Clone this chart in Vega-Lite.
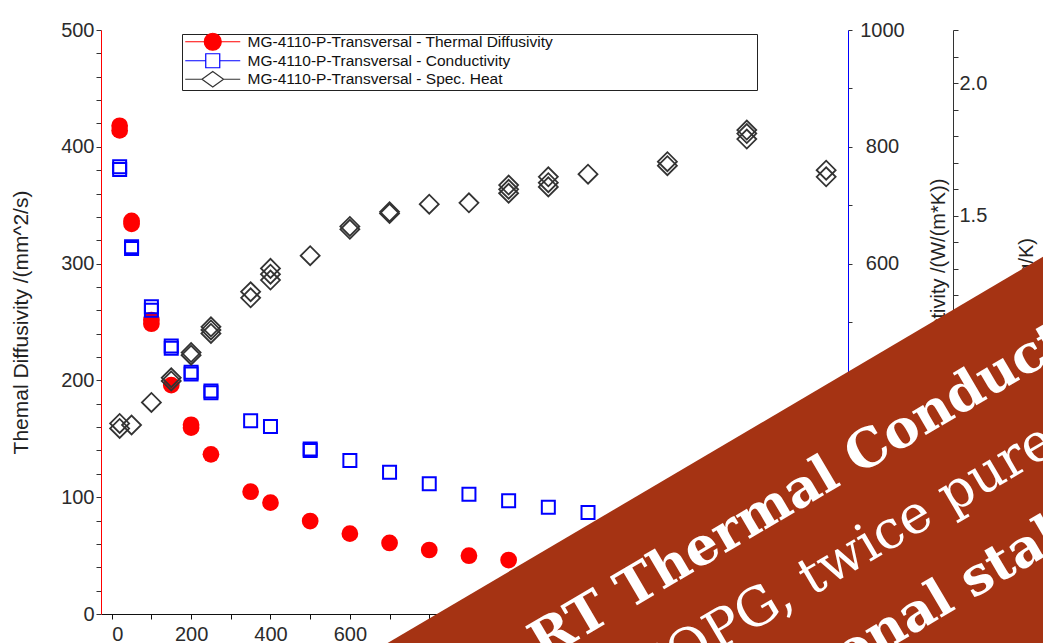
{
  "$schema": "https://vega.github.io/schema/vega-lite/v6.json",
  "width": 747,
  "height": 584,
  "autosize": {"type": "none"},
  "padding": {"left": 101, "top": 30, "right": 195, "bottom": 29},
  "background": "white",
  "config": {"view": {"stroke": null}, "font": "Liberation Sans"},
  "datasets": {
    "diff": [
      {"temp": 20, "value": 418}, {"temp": 20, "value": 414},
      {"temp": 50, "value": 336.5}, {"temp": 50, "value": 334},
      {"temp": 100, "value": 251.7}, {"temp": 100, "value": 248.5},
      {"temp": 150, "value": 196},
      {"temp": 200, "value": 162}, {"temp": 200, "value": 159.5},
      {"temp": 250, "value": 136.7},
      {"temp": 350, "value": 104.7},
      {"temp": 400, "value": 95.3},
      {"temp": 500, "value": 79.6},
      {"temp": 600, "value": 68.8},
      {"temp": 700, "value": 60.8},
      {"temp": 800, "value": 54.8},
      {"temp": 900, "value": 49.9},
      {"temp": 1000, "value": 46.2}
    ],
    "cond": [
      {"temp": 20, "value": 766}, {"temp": 20, "value": 761},
      {"temp": 50, "value": 629}, {"temp": 50, "value": 626},
      {"temp": 100, "value": 526}, {"temp": 100, "value": 520},
      {"temp": 150, "value": 459}, {"temp": 150, "value": 455},
      {"temp": 200, "value": 414}, {"temp": 200, "value": 411},
      {"temp": 250, "value": 382}, {"temp": 250, "value": 379},
      {"temp": 350, "value": 331},
      {"temp": 400, "value": 321},
      {"temp": 500, "value": 282.5}, {"temp": 500, "value": 280},
      {"temp": 600, "value": 263},
      {"temp": 700, "value": 242.6},
      {"temp": 800, "value": 223},
      {"temp": 900, "value": 205},
      {"temp": 1000, "value": 194},
      {"temp": 1100, "value": 182.7},
      {"temp": 1200, "value": 174}
    ],
    "cp": [
      {"temp": 20, "value": 0.699}, {"temp": 20, "value": 0.718},
      {"temp": 50, "value": 0.712},
      {"temp": 100, "value": 0.797},
      {"temp": 150, "value": 0.878}, {"temp": 150, "value": 0.89},
      {"temp": 200, "value": 0.975}, {"temp": 200, "value": 0.985},
      {"temp": 250, "value": 1.057}, {"temp": 250, "value": 1.07}, {"temp": 250, "value": 1.082},
      {"temp": 350, "value": 1.191}, {"temp": 350, "value": 1.214},
      {"temp": 400, "value": 1.258}, {"temp": 400, "value": 1.28}, {"temp": 400, "value": 1.302},
      {"temp": 500, "value": 1.35},
      {"temp": 600, "value": 1.449}, {"temp": 600, "value": 1.46},
      {"temp": 700, "value": 1.509}, {"temp": 700, "value": 1.515},
      {"temp": 800, "value": 1.544},
      {"temp": 900, "value": 1.549},
      {"temp": 1000, "value": 1.585}, {"temp": 1000, "value": 1.6}, {"temp": 1000, "value": 1.616},
      {"temp": 1100, "value": 1.609}, {"temp": 1100, "value": 1.625}, {"temp": 1100, "value": 1.647},
      {"temp": 1200, "value": 1.657},
      {"temp": 1400, "value": 1.689}, {"temp": 1400, "value": 1.704},
      {"temp": 1600, "value": 1.789}, {"temp": 1600, "value": 1.81}, {"temp": 1600, "value": 1.823},
      {"temp": 1800, "value": 1.647}, {"temp": 1800, "value": 1.672}
    ],
    "series": [
      {"s": "MG-4110-P-Transversal - Thermal Diffusivity"},
      {"s": "MG-4110-P-Transversal - Conductivity"},
      {"s": "MG-4110-P-Transversal - Spec. Heat"}
    ],
    "band": [{"x": 607.8, "y": -390.1, "x2": 3646, "y2": 218.2}],
    "boldText": [
      {"x": 1085.5, "y": -40.1, "t": "RT Thermal Conductivity"},
      {"x": 1381, "y": -144.9, "t": "Exceptional stability"}
    ],
    "regText": [
      {"x": 1330, "y": -71.6, "t": "HOPG, twice purer"}
    ]
  },
  "resolve": {"scale": {"y": "independent"}},
  "layer": [
    {
      "data": {"name": "diff"},
      "mark": {"type": "point", "shape": "circle", "filled": true, "size": 280, "opacity": 1, "strokeWidth": 0, "color": "#ff0000"},
      "encoding": {
        "x": {
          "field": "temp", "type": "quantitative", "title": null,
          "scale": {"domain": [-27, 1855], "nice": false, "zero": false},
          "axis": {
            "title": null,
            "values": [0, 100, 200, 300, 400, 500, 600, 700, 800, 900, 1000, 1100, 1200, 1300, 1400, 1500, 1600, 1700, 1800],
            "format": "d",
            "labelExpr": "datum.value % 200 === 0 ? datum.label : ''",
            "grid": false, "zindex": 0,
            "domainColor": "#111111", "domainWidth": 1,
            "tickColor": "#111111", "tickSize": 5, "tickWidth": 1,
            "labelFont": "Liberation Sans", "labelFontSize": 20, "labelColor": "#2b2b2b",
            "labelPadding": 5, "labelFlush": false, "labelOverlap": false, "labelDx": 6,
            "labelAlign": {"condition": {"test": "datum.value === 0", "value": "left"}, "value": "center"}
          }
        },
        "y": {
          "field": "value", "type": "quantitative",
          "scale": {"domain": [0, 500], "nice": false, "zero": false},
          "axis": {
            "orient": "left",
            "title": "Themal Diffusivity /(mm^2/s)",
            "values": [0, 20, 40, 60, 80, 100, 120, 140, 160, 180, 200, 220, 240, 260, 280, 300, 320, 340, 360, 380, 400, 420, 440, 460, 480, 500],
            "format": "d",
            "labelExpr": "datum.value % 100 === 0 ? datum.label : ''",
            "grid": false, "zindex": 0,
            "domainColor": "#ff0000", "domainWidth": 1,
            "tickColor": "#333333", "tickSize": 5, "tickWidth": 1,
            "labelFont": "Liberation Sans", "labelFontSize": 20, "labelColor": "#2b2b2b",
            "labelPadding": 2, "labelOverlap": false,
            "titleFont": "Liberation Sans", "titleFontSize": 21, "titleFontWeight": "normal", "titleColor": "#222222",
            "titleAngle": 270, "titleBaseline": "alphabetic", "titleAlign": "center",
            "titleX": -74, "titleY": 292
          }
        }
      }
    },
    {
      "data": {"name": "cond"},
      "mark": {"type": "point", "shape": "square", "filled": false, "size": 169, "opacity": 1, "strokeWidth": 2, "color": "#0000ff"},
      "encoding": {
        "x": {"field": "temp", "type": "quantitative", "title": null, "scale": {"domain": [-27, 1855], "nice": false, "zero": false}},
        "y": {
          "field": "value", "type": "quantitative",
          "scale": {"domain": [0, 1000], "nice": false, "zero": false},
          "axis": {
            "orient": "right",
            "title": "Thermal Conductivity /(W/(m*K))",
            "values": [0, 100, 200, 300, 400, 500, 600, 700, 800, 900, 1000],
            "format": "d",
            "labelExpr": "datum.value % 200 === 0 ? datum.label : ''",
            "grid": false, "zindex": 0,
            "domainColor": "#0000ff", "domainWidth": 1,
            "tickColor": "#333333", "tickSize": 4, "tickWidth": 1,
            "labelFont": "Liberation Sans", "labelFontSize": 20, "labelColor": "#2b2b2b",
            "labelAlign": "center", "labelPadding": 30, "labelOverlap": false,
            "titleFont": "Liberation Sans", "titleFontSize": 20, "titleFontWeight": "normal", "titleColor": "#222222",
            "titleAngle": 270, "titleBaseline": "alphabetic", "titleAlign": "center",
            "titleX": 96, "titleY": 292
          }
        }
      }
    },
    {
      "data": {"name": "cp"},
      "mark": {"type": "point", "shape": "diamond", "filled": false, "size": 360, "opacity": 1, "strokeWidth": 1.8, "color": "#333333"},
      "encoding": {
        "x": {"field": "temp", "type": "quantitative", "title": null, "scale": {"domain": [-27, 1855], "nice": false, "zero": false}},
        "y": {
          "field": "value", "type": "quantitative",
          "scale": {"domain": [0, 2.2], "nice": false, "zero": false},
          "axis": {
            "orient": "right", "offset": 105,
            "title": "Spec. Heat /(J/g/K)",
            "values": [0, 0.1, 0.2, 0.3, 0.4, 0.5, 0.6, 0.7, 0.8, 0.9, 1.0, 1.1, 1.2, 1.3, 1.4, 1.5, 1.6, 1.7, 1.8, 1.9, 2.0, 2.1, 2.2],
            "labelExpr": "abs(datum.value * 2 - round(datum.value * 2)) < 0.01 ? format(datum.value, '.1f') : ''",
            "grid": false, "zindex": 0,
            "domainColor": "#333333", "domainWidth": 1,
            "tickColor": "#333333", "tickSize": 5, "tickWidth": 1,
            "labelFont": "Liberation Sans", "labelFontSize": 20, "labelColor": "#2b2b2b",
            "labelPadding": 1, "labelOverlap": false,
            "titleFont": "Liberation Sans", "titleFontSize": 20, "titleFontWeight": "normal", "titleColor": "#222222",
            "titleAngle": 270, "titleBaseline": "alphabetic", "titleAlign": "center",
            "titleX": 79, "titleY": 292
          }
        }
      }
    },
    {
      "data": {"name": "band"},
      "mark": {"type": "rule", "strokeWidth": 700, "color": "#a53313", "strokeCap": "butt", "clip": false},
      "encoding": {
        "x": {"field": "x", "type": "quantitative", "title": null, "scale": {"domain": [-27, 1855], "nice": false, "zero": false}},
        "y": {"field": "y", "type": "quantitative", "scale": {"domain": [0, 500], "nice": false, "zero": false}, "axis": null},
        "x2": {"field": "x2"},
        "y2": {"field": "y2"}
      }
    },
    {
      "data": {"name": "boldText"},
      "mark": {"type": "text", "font": "DejaVu Serif", "fontWeight": "bold", "fontSize": 52.5, "color": "white", "angle": 329.5, "align": "left", "baseline": "alphabetic", "clip": false},
      "encoding": {
        "x": {"field": "x", "type": "quantitative", "title": null, "scale": {"domain": [-27, 1855], "nice": false, "zero": false}},
        "y": {"field": "y", "type": "quantitative", "scale": {"domain": [0, 500], "nice": false, "zero": false}, "axis": null},
        "text": {"field": "t"}
      }
    },
    {
      "data": {"name": "regText"},
      "mark": {"type": "text", "font": "DejaVu Serif", "fontWeight": "normal", "fontSize": 53, "color": "white", "angle": 329.5, "align": "left", "baseline": "alphabetic", "clip": false},
      "encoding": {
        "x": {"field": "x", "type": "quantitative", "title": null, "scale": {"domain": [-27, 1855], "nice": false, "zero": false}},
        "y": {"field": "y", "type": "quantitative", "scale": {"domain": [0, 500], "nice": false, "zero": false}, "axis": null},
        "text": {"field": "t"}
      }
    },
    {
      "data": {"name": "series"},
      "mark": {"type": "point", "filled": true, "opacity": 0, "strokeWidth": 1.2, "size": 100},
      "encoding": {
        "fill": {
          "field": "s", "type": "nominal",
          "scale": {"domain": ["MG-4110-P-Transversal - Thermal Diffusivity", "MG-4110-P-Transversal - Conductivity", "MG-4110-P-Transversal - Spec. Heat"], "range": ["#ff0000", "#ffffff", "#ffffff"]},
          "legend": {
            "title": null,
            "orient": "none", "legendX": 81, "legendY": 4,
            "padding": 0, "rowPadding": -2.5,
            "strokeColor": "#222222", "fillColor": "white",
            "symbolSize": 100, "symbolOffset": 23, "labelOffset": 27, "symbolStrokeWidth": 1.2, "symbolOpacity": 1,
            "labelFont": "Liberation Sans", "labelFontSize": 15.5, "labelColor": "#111111", "labelLimit": 2000,
            "labelExpr": "datum.label + '\u2800\u2800\u2800\u2800\u2800\u2800\u2800\u2800\u2800\u2800\u2800\u2800\u2800\u2800\u2800\u2800\u2800'"
          }
        },
        "stroke": {
          "field": "s", "type": "nominal",
          "scale": {"domain": ["MG-4110-P-Transversal - Thermal Diffusivity", "MG-4110-P-Transversal - Conductivity", "MG-4110-P-Transversal - Spec. Heat"], "range": ["#ff0000", "#0000ff", "#333333"]},
          "legend": {
            "title": null,
            "orient": "none", "legendX": 81, "legendY": 4,
            "padding": 0, "rowPadding": -2.5,
            "strokeColor": "#222222", "fillColor": "white",
            "symbolSize": 100, "symbolOffset": 23, "labelOffset": 27, "symbolStrokeWidth": 1.2, "symbolOpacity": 1,
            "labelFont": "Liberation Sans", "labelFontSize": 15.5, "labelColor": "#111111", "labelLimit": 2000,
            "labelExpr": "datum.label + '\u2800\u2800\u2800\u2800\u2800\u2800\u2800\u2800\u2800\u2800\u2800\u2800\u2800\u2800\u2800\u2800\u2800'"
          }
        },
        "shape": {
          "field": "s", "type": "nominal",
          "scale": {
            "domain": ["MG-4110-P-Transversal - Thermal Diffusivity", "MG-4110-P-Transversal - Conductivity", "MG-4110-P-Transversal - Spec. Heat"],
            "range": [
              "M-5.5,0H5.5M-1.7,0A1.7,1.7 0 1,0 1.7,0A1.7,1.7 0 1,0 -1.7,0Z",
              "M-5.5,0H-1.4M1.4,0H5.5M-1.4,-1.4H1.4V1.4H-1.4Z",
              "M-5.5,0H-2.16M2.16,0H5.5M-2.16,0L0,-1.56L2.16,0L0,1.56Z"
            ]
          },
          "legend": {
            "title": null,
            "orient": "none", "legendX": 81, "legendY": 4,
            "padding": 0, "rowPadding": -2.5,
            "strokeColor": "#222222", "fillColor": "white",
            "symbolSize": 100, "symbolOffset": 23, "labelOffset": 27, "symbolStrokeWidth": 1.2, "symbolOpacity": 1,
            "labelFont": "Liberation Sans", "labelFontSize": 15.5, "labelColor": "#111111", "labelLimit": 2000,
            "labelExpr": "datum.label + '\u2800\u2800\u2800\u2800\u2800\u2800\u2800\u2800\u2800\u2800\u2800\u2800\u2800\u2800\u2800\u2800\u2800'"
          }
        }
      }
    }
  ]
}
